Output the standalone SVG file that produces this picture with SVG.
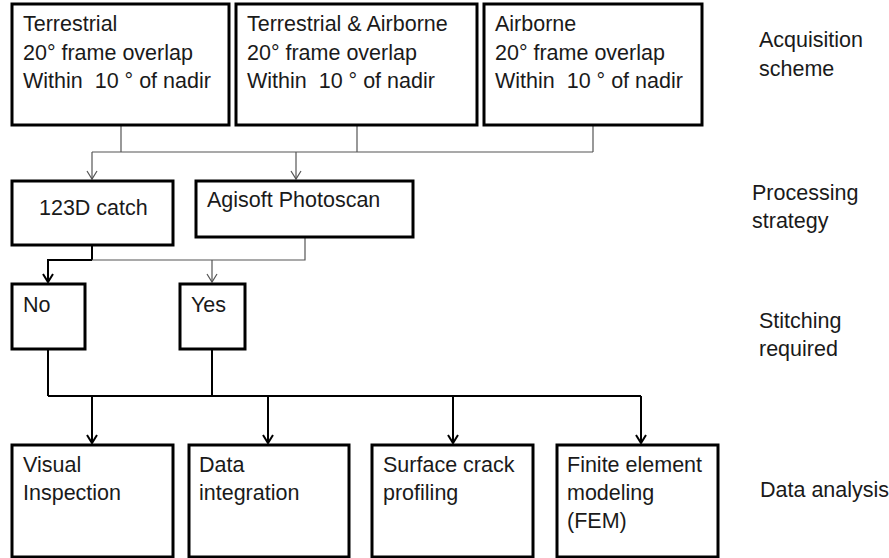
<svg xmlns="http://www.w3.org/2000/svg" width="889" height="558" viewBox="0 0 889 558">
<style>
.box{fill:#fff;stroke:#000;stroke-width:3}
.t{font-family:"Liberation Sans",Arial,sans-serif;font-size:21.5px;fill:#1a1a1a;white-space:pre}
.thin{fill:none;stroke:#555;stroke-width:1.2}
.bold{fill:none;stroke:#000;stroke-width:2}
</style>
<defs>
<marker id="vThin" markerUnits="userSpaceOnUse" markerWidth="14" markerHeight="14" viewBox="-10 -7 14 14" refX="0" refY="0" orient="auto">
<path d="M-8,-5 L0,0 L-8,5" fill="none" stroke="#555" stroke-width="1.2"/>
</marker>
<marker id="vBold" markerUnits="userSpaceOnUse" markerWidth="14" markerHeight="14" viewBox="-10 -7 14 14" refX="0" refY="0" orient="auto">
<path d="M-8,-5 L0,0 L-8,5" fill="none" stroke="#000" stroke-width="2"/>
</marker>
</defs>
<rect width="889" height="558" fill="#fff"/>
<g id="connectors">
<path class="thin" d="M121,125 V152 M357,125 V152 M593,125 V152 M92,152 H593"/>
<path class="thin" d="M92,152 V179" marker-end="url(#vThin)"/>
<path class="thin" d="M296,152 V179" marker-end="url(#vThin)"/>
<path class="bold" d="M92,245 V260"/>
<path class="thin" d="M92,260 H305 V237"/>
<path class="bold" d="M92,260 H48 V282" marker-end="url(#vBold)"/>
<path class="thin" d="M212,260 V282" marker-end="url(#vThin)"/>
<path class="bold" d="M48,349 V396 M212,349 V396 M48,396 H641"/>
<path class="bold" d="M92,396 V443" marker-end="url(#vBold)"/>
<path class="bold" d="M268,396 V443" marker-end="url(#vBold)"/>
<path class="bold" d="M453,396 V443" marker-end="url(#vBold)"/>
<path class="bold" d="M641,396 V443" marker-end="url(#vBold)"/>
</g>
<g id="terrestrial">
<rect class="box" x="12" y="4" width="217" height="121"/>
<text class="t" x="23" y="31">Terrestrial</text>
<text class="t" x="23" y="60">20° frame overlap</text>
<text class="t" x="23" y="88">Within  10 ° of nadir</text>
</g>
<g id="terrestrial-airborne">
<rect class="box" x="236" y="4" width="241" height="121"/>
<text class="t" x="247" y="31">Terrestrial &amp; Airborne</text>
<text class="t" x="247" y="60">20° frame overlap</text>
<text class="t" x="247" y="88">Within  10 ° of nadir</text>
</g>
<g id="airborne">
<rect class="box" x="484" y="4" width="218" height="121"/>
<text class="t" x="495" y="31">Airborne</text>
<text class="t" x="495" y="60">20° frame overlap</text>
<text class="t" x="495" y="88">Within  10 ° of nadir</text>
</g>
<g id="catch123d">
<rect class="box" x="12" y="181" width="161" height="64"/>
<text class="t" x="39" y="215">123D catch</text>
</g>
<g id="agisoft">
<rect class="box" x="196" y="181" width="217" height="56"/>
<text class="t" x="207" y="207">Agisoft Photoscan</text>
</g>
<g id="no">
<rect class="box" x="12" y="284" width="73" height="65"/>
<text class="t" x="23" y="312">No</text>
</g>
<g id="yes">
<rect class="box" x="180" y="284" width="65" height="65"/>
<text class="t" x="191" y="312">Yes</text>
</g>
<g id="visual">
<rect class="box" x="12" y="445" width="161" height="112"/>
<text class="t" x="23" y="472">Visual</text>
<text class="t" x="23" y="500">Inspection</text>
</g>
<g id="data-integration">
<rect class="box" x="189" y="445" width="160" height="112"/>
<text class="t" x="199" y="472">Data</text>
<text class="t" x="199" y="500">integration</text>
</g>
<g id="surface-crack">
<rect class="box" x="372" y="445" width="161" height="112"/>
<text class="t" x="383" y="472">Surface crack</text>
<text class="t" x="383" y="500">profiling</text>
</g>
<g id="fem">
<rect class="box" x="557" y="445" width="161" height="112"/>
<text class="t" x="567" y="472">Finite element</text>
<text class="t" x="567" y="500">modeling</text>
<text class="t" x="567" y="528">(FEM)</text>
</g>
<g id="labels">
<text class="t" x="759" y="47">Acquisition</text>
<text class="t" x="759" y="76">scheme</text>
<text class="t" x="752" y="200">Processing</text>
<text class="t" x="752" y="228">strategy</text>
<text class="t" x="759" y="328">Stitching</text>
<text class="t" x="759" y="356">required</text>
<text class="t" x="760" y="497">Data analysis</text>
</g>
</svg>
